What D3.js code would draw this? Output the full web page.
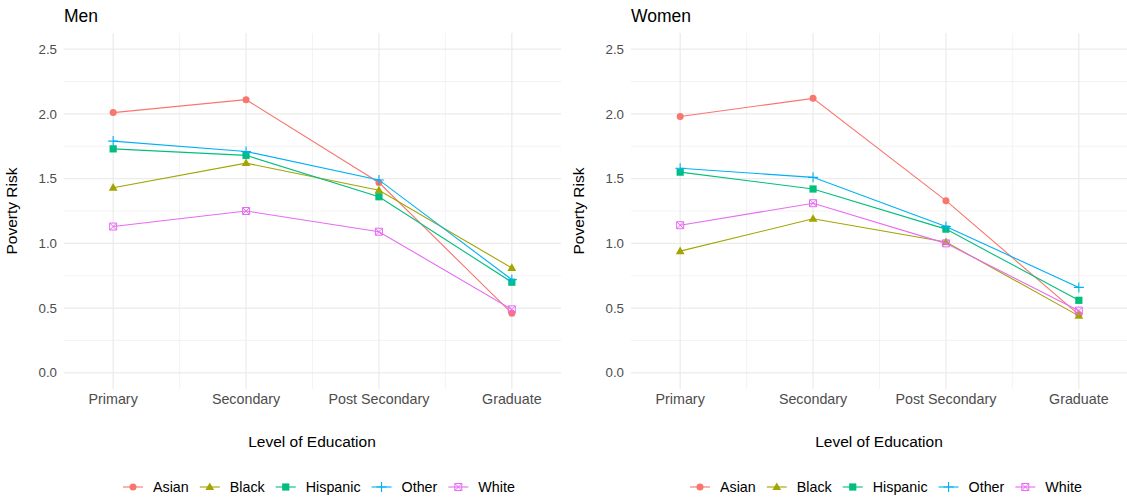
<!DOCTYPE html>
<html>
<head>
<meta charset="utf-8">
<script src="https://cdn.jsdelivr.net/npm/d3@7"></script>
<style>
  body { margin: 0; background: #fff; }
  svg text { font-family: "Liberation Sans", Arial, sans-serif; }
</style>
</head>
<body>
<div id="chart-area"></div>
<script>
const levels = ['Primary', 'Secondary', 'Post Secondary', 'Graduate'];
const groups = ['Asian', 'Black', 'Hispanic', 'Other', 'White'];
const yTicks = [0, 0.5, 1, 1.5, 2, 2.5];

// values, one per level
const menAsian    = [2.01, 2.11, 1.47, 0.46];
const menBlack    = [1.43, 1.62, 1.41, 0.81];
const menHispanic = [1.73, 1.68, 1.36, 0.70];
const menOther    = [1.79, 1.71, 1.49, 0.72];
const menWhite    = [1.13, 1.25, 1.09, 0.49];

const womenAsian    = [1.98, 2.12, 1.33, 0.45];
const womenBlack    = [0.94, 1.19, 1.01, 0.44];
const womenHispanic = [1.55, 1.42, 1.11, 0.56];
const womenOther    = [1.58, 1.51, 1.13, 0.66];
const womenWhite    = [1.14, 1.31, 1.00, 0.48];

const colors = ['#F8766D', '#A3A500', '#00BF7D', '#00B0F6', '#E76BF3'];
const shapes = ['circle', 'triangle', 'square', 'plus', 'boxcross'];

const W = 1127, H = 497;
const panelTop = 33, panelBottom = 389;

const svg = d3.select('#chart-area')
  .append('svg')
  .attr('width', W)
  .attr('height', H);

const c = d3.scaleOrdinal().domain(groups).range(colors);
const s = d3.scaleOrdinal().domain(groups).range(shapes);

const y = d3.scaleLinear()
  .domain([-0.125, 2.625])
  .range([panelBottom, panelTop]);

function drawShape(sel, shape, color) {
  if (shape === 'circle') {
    sel.append('circle').attr('r', 3.5).attr('fill', color);
  } else if (shape === 'triangle') {
    sel.append('path').attr('d', 'M0,-4.6L4.4,3L-4.4,3Z').attr('fill', color);
  } else if (shape === 'square') {
    sel.append('rect').attr('x', -3.6).attr('y', -3.6).attr('width', 7.2).attr('height', 7.2).attr('fill', color);
  } else if (shape === 'plus') {
    sel.append('path').attr('d', 'M-5,0H5M0,-5V5').attr('stroke', color).attr('stroke-width', 1.1).attr('fill', 'none');
  } else {
    sel.append('path')
      .attr('d', 'M-3.5,-3.5H3.5V3.5H-3.5ZM-3.5,-3.5L3.5,3.5M3.5,-3.5L-3.5,3.5')
      .attr('stroke', color).attr('stroke-width', 1).attr('fill', 'none');
  }
}

function panel(left, title, series) {
  const x = d3.scalePoint()
    .domain(levels)
    .range([left, left + 497])
    .padding(0.37);

  const g = svg.append('g');

  // minor grid
  const minorY = [0.25, 0.75, 1.25, 1.75, 2.25];
  g.selectAll('.minor-y').data(minorY).enter().append('line')
    .attr('x1', left).attr('x2', left + 497)
    .attr('y1', d => y(d)).attr('y2', d => y(d))
    .attr('stroke', '#ebebeb').attr('stroke-width', 0.6);
  const xs = levels.map(l => x(l));
  const minorX = d3.range(xs.length - 1).map(i => (xs[i] + xs[i + 1]) / 2);
  g.selectAll('.minor-x').data(minorX).enter().append('line')
    .attr('x1', d => d).attr('x2', d => d)
    .attr('y1', panelTop).attr('y2', panelBottom)
    .attr('stroke', '#ebebeb').attr('stroke-width', 0.6);

  // major grid
  g.selectAll('.major-y').data(yTicks).enter().append('line')
    .attr('x1', left).attr('x2', left + 497)
    .attr('y1', d => y(d)).attr('y2', d => y(d))
    .attr('stroke', '#ebebeb').attr('stroke-width', 1.2);
  g.selectAll('.major-x').data(levels).enter().append('line')
    .attr('x1', d => x(d)).attr('x2', d => x(d))
    .attr('y1', panelTop).attr('y2', panelBottom)
    .attr('stroke', '#ebebeb').attr('stroke-width', 1.2);

  // tick labels
  g.selectAll('.ytick').data(yTicks).enter().append('text')
    .attr('x', left - 7).attr('y', d => y(d))
    .attr('dy', '0.35em')
    .attr('text-anchor', 'end')
    .attr('font-size', '13.3px')
    .attr('fill', '#4d4d4d')
    .text(d => d3.format('.1f')(d));
  g.selectAll('.xtick').data(levels).enter().append('text')
    .attr('x', d => x(d)).attr('y', 404)
    .attr('text-anchor', 'middle')
    .attr('font-size', '14.3px')
    .attr('fill', '#4d4d4d')
    .text(d => d);

  // titles
  g.append('text')
    .attr('x', left).attr('y', 22)
    .attr('font-size', '17.5px')
    .text(title);
  g.append('text')
    .attr('transform', `translate(${left - 47}, ${(panelTop + panelBottom) / 2}) rotate(-90)`)
    .attr('text-anchor', 'middle')
    .attr('font-size', '15.5px')
    .text('Poverty Risk');
  g.append('text')
    .attr('x', left + 248).attr('y', 447)
    .attr('text-anchor', 'middle')
    .attr('font-size', '15.5px')
    .text('Level of Education');

  // lines & points
  const line = d3.line()
    .x((d, i) => x(levels[i]))
    .y(d => y(d));

  groups.forEach((grp, gi) => {
    const vals = series[gi];
    g.append('path')
      .datum(vals)
      .attr('d', line)
      .attr('fill', 'none')
      .attr('stroke', c(grp))
      .attr('stroke-width', 1.1);
    vals.forEach((v, i) => {
      const pt = g.append('g').attr('transform', `translate(${x(levels[i])}, ${y(v)})`);
      drawShape(pt, s(grp), c(grp));
    });
  });

  // legend
  const legend = g.append('g').attr('transform', `translate(${left + 59}, 487)`);
  let pos = 0;
  groups.forEach(grp => {
    const row = legend.append('g').attr('transform', `translate(${pos}, 0)`);
    row.append('line')
      .attr('x1', 0).attr('x2', 20)
      .attr('stroke', c(grp)).attr('stroke-width', 1.1);
    drawShape(row.append('g').attr('transform', 'translate(10, 0)'), s(grp), c(grp));
    const txt = row.append('text')
      .attr('x', 30).attr('dy', '0.35em')
      .attr('font-size', '14.3px')
      .text(grp);
    pos += 30 + txt.node().getComputedTextLength() + 11;
  });
}

panel(64, 'Men', [menAsian, menBlack, menHispanic, menOther, menWhite]);
panel(631, 'Women', [womenAsian, womenBlack, womenHispanic, womenOther, womenWhite]);
</script>
</body>
</html>
